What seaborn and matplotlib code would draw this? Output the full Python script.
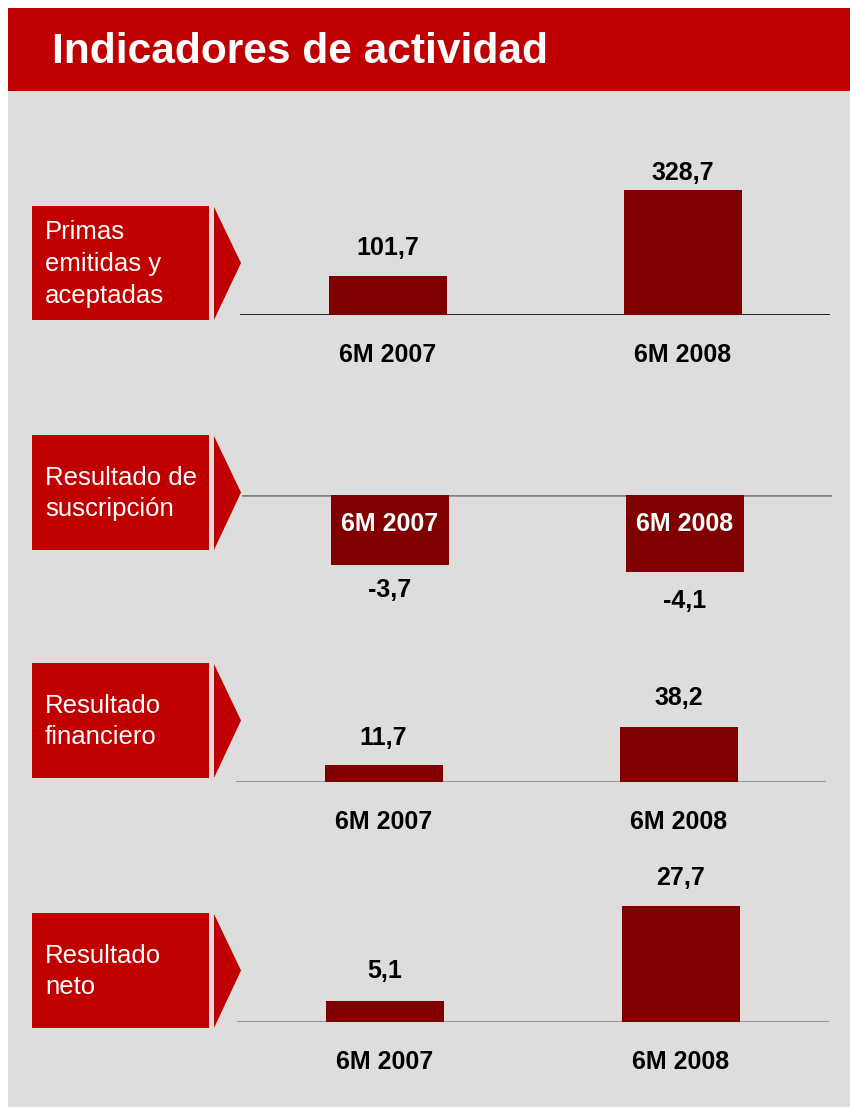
import matplotlib
matplotlib.use("Agg")
import matplotlib.pyplot as plt
from matplotlib.patches import Rectangle, Polygon
import seaborn as sns

sns.set_theme(style="white")
plt.rcParams['font.family'] = ['Liberation Sans', 'DejaVu Sans']

# ---------------- data ----------------
title = "Indicadores de actividad"
periods = ["6M 2007", "6M 2008"]
indicators = ["Primas\nemitidas y\naceptadas", "Resultado de\nsuscripción",
              "Resultado\nfinanciero", "Resultado\nneto"]
primas = [101.7, 328.7]
suscripcion = [-3.7, -4.1]
financiero = [11.7, 38.2]
neto = [5.1, 27.7]
series = [primas, suscripcion, financiero, neto]

# ---------------- style / layout ----------------
W, H = 850, 1109
RED = "#C00000"
BAR = "#800000"
GRAY = "#DDDDDD"

# per panel: (x0, x1, y_top, y_bottom) in pixels from top-left, ylim, baseline colour
panels = [
    dict(rect=(240, 830, 150, 315), ylim=(0, 434), base="#000000", blw=1.2,
         box=(206, 320), lab_off=[28, 17]),
    dict(rect=(242, 832, 495, 610), ylim=(-6.12, 0), base="#7F7F7F", blw=1.8,
         box=(435, 550), lab_off=[-25, -29]),
    dict(rect=(236, 826, 680, 782), ylim=(0, 70.8), base="#7F7F7F", blw=1.8,
         box=(663, 778), lab_off=[27, 29]),
    dict(rect=(237, 829, 860, 1022), ylim=(0, 38.7), base="#7F7F7F", blw=1.8,
         box=(913, 1028), lab_off=[30, 28]),
]

fig = plt.figure(figsize=(W / 100, H / 100), dpi=100)
fig.patch.set_facecolor("white")

# background decoration axes in pixel coordinates
bg = fig.add_axes([0, 0, 1, 1], zorder=0)
bg.set_xlim(0, W)
bg.set_ylim(H, 0)
bg.axis("off")
bg.add_patch(Rectangle((8, 91), W - 8, 1107 - 91, facecolor=GRAY, edgecolor="none"))
bg.add_patch(Rectangle((8, 8), W - 8, 83, facecolor=RED, edgecolor="none"))
bg.text(52, 52, title, color="white", fontsize=30.6, fontweight="bold",
        ha="left", va="center")

for p, label in zip(panels, indicators):
    top, bot = p["box"]
    bg.add_patch(Rectangle((32, top), 177, bot - top, facecolor=RED, edgecolor="none"))
    bg.add_patch(Polygon([(214, top + 1), (241, (top + bot) / 2), (214, bot)],
                         closed=True, facecolor=RED, edgecolor="none"))
    bg.text(45, (top + bot) / 2 + 1, label, color="white", fontsize=18.5,
            ha="left", va="center", linespacing=1.4)


def px_rect(x0, x1, yt, yb):
    return [x0 / W, 1 - yb / H, (x1 - x0) / W, (yb - yt) / H]


for i, (p, vals) in enumerate(zip(panels, series)):
    ax = fig.add_axes(px_rect(*p["rect"]), zorder=1)
    ax.patch.set_alpha(0)
    sns.barplot(x=periods, y=vals, ax=ax, color=BAR, saturation=1, width=0.4,
                edgecolor="none", linewidth=0)
    ax.set_xlim(-0.5, 1.5)
    ax.set_ylim(*p["ylim"])
    for s in ax.spines.values():
        s.set_visible(False)
    ax.axhline(0, color=p["base"], lw=p["blw"], zorder=0.5)
    ax.set_yticks([])
    ax.set_ylabel("")
    ax.set_xlabel("")
    ax.tick_params(axis="x", length=0)
    for j, v in enumerate(vals):
        txt = f"{v:.1f}".replace(".", ",")
        ax.annotate(txt, (j, v), xytext=(0, p["lab_off"][j]), textcoords="offset pixels",
                    ha="center", va="center", fontsize=18, fontweight="bold", color="black")
    if i == 1:
        ax.set_xticks([])
        for j, per in enumerate(periods):
            ax.annotate(per, (j, 0), xytext=(0, -29), textcoords="offset pixels",
                        ha="center", va="center", fontsize=18, fontweight="bold",
                        color="white")
    else:
        ax.set_xticks(range(len(periods)))
        ax.set_xticklabels(periods, fontsize=18, fontweight="bold", color="black")
        ax.tick_params(axis="x", pad=20)

fig.savefig("out.png", dpi=100, facecolor="white")
